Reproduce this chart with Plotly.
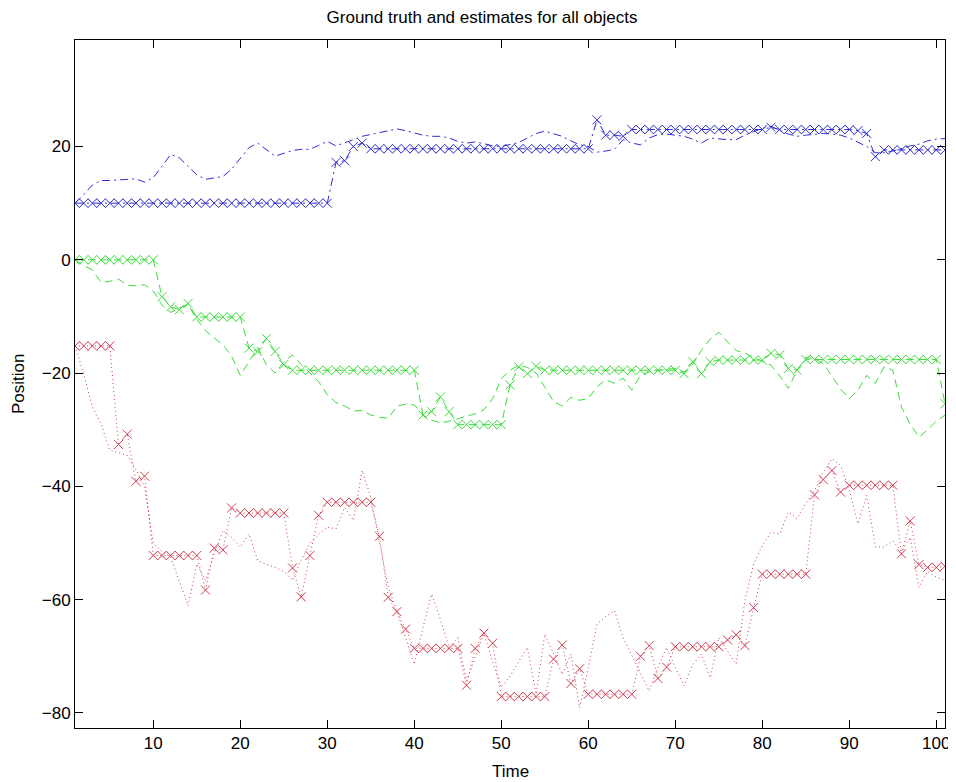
import plotly.graph_objects as go

time = list(range(1, 102))

blue_truth = [10, 11.5, 13.2, 14, 14, 14.1, 14.2, 14.3, 13.7, 14.5,
              16.5, 18.6, 18, 16.5, 15, 14.2, 14.4, 14.7, 16, 18,
              19.8, 20.6, 19.5, 18.3, 18.8, 19.3, 19.5, 19.5, 20.2, 20.9,
              20.1, 20.6, 21.2, 21.8, 22.1, 22.5, 22.8, 23.1, 22.8, 22.4,
              22, 21.8, 21.8, 21.5, 20.9, 20.6, 20.8, 20.5, 20.1, 20,
              20.3, 20.7, 21.5, 22.3, 22.7, 22.2, 21.8, 21, 20.3, 20,
              19, 19.2, 19.5, 21.2, 20.6, 20.3, 21.5, 22.1, 22.2, 22,
              21.8, 21.3, 20.6, 21.5, 21.3, 21.2, 21.2, 22, 22.6, 23.2,
              23.6, 22.8, 22.2, 21.8, 22, 22.1, 22.3, 22.2, 22, 21.5,
              20.8, 20, 18.9, 18.9, 19.2, 19.7, 20.1, 20.4, 21, 21.3,
              21.4]
blue_est = [10] * 30 + [17.2, 17.5, 20, 20.6] + [19.6] * 26 + \
           [24.7, 22, 22, 21.8] + [23.0] * 16 + [23.4] + [23.0] * 9 + \
           [22.8, 22.3, 18.2] + [19.4] * 8

green_truth = [0, -1, -1.8, -4, -3.8, -3.4, -4.5, -4.6, -4.4, -5.5,
               -8, -9.3, -8.5, -7.9, -10.5, -12.5, -13.8, -15, -17, -20.4,
               -18, -15.5, -18.5, -20, -18, -16.8, -18.5, -20, -21.5, -23.8,
               -25.2, -25.8, -26.7, -26.6, -27.4, -27.8, -28, -25.8, -25.5, -25.6,
               -27.4, -28.3, -28.8, -28.5, -28, -27.6, -27.2, -26.5, -24.5, -21,
               -19.5, -18.6, -19, -20, -22.5, -25, -25.8, -24.3, -24.8, -24.5,
               -22.4, -21.2, -21.8, -20.9, -23, -20.4, -19.8, -19.5, -19.3, -19.2,
               -19.8, -18.5, -16, -14, -12.8, -14.5, -16, -16.5, -17.2, -18,
               -18.6, -20.5, -22.7, -19.5, -17.2, -17.5, -18.3, -20.5, -22.8, -24.5,
               -23, -20.4, -21.8, -18.9, -19.5, -26, -29, -31.3, -30, -28.5,
               -27.4]
green_est = [0] * 10 + [-6.5, -8.3, -8.8, -7.7] + [-10.1] * 6 + \
            [-15.6, -16.2, -13.9, -16.2, -18.5] + [-19.5] * 15 + \
            [-27.4, -26.8, -24.2, -26.8] + [-29.1] * 6 + \
            [-22.1, -18.9, -20.1, -18.8] + [-19.5] * 16 + \
            [-20.1, -18, -20.1, -18] + [-17.7] * 6 + \
            [-16.5, -16.8, -19.2, -19.5] + [-17.6] * 16 + [-25.4]

red_truth = [-15.2, -20.1, -26, -29, -33.6, -34, -34.5, -37, -40.1, -50.1,
             -51.5, -52.5, -57, -61.1, -53.7, -56.6, -52, -47.8, -49, -50.7,
             -48.4, -53.1, -53.8, -54.3, -55, -56.6, -53, -50.1, -48.5, -47.2,
             -47.5, -43.7, -46, -37.2, -41.9, -50, -57.8, -62, -66.5, -71.4,
             -64.9, -59, -63.5, -68.4, -66.7, -74.3, -70.2, -66, -71, -75.5,
             -73.5, -71, -68.4, -76.7, -66.1, -69.5, -73.2, -69.6, -79.1, -72,
             -64.3, -63, -61.9, -66.7, -70, -73, -76.1, -72, -68.4, -72,
             -75.2, -71.5, -69.6, -73.8, -66.7, -69, -71.4, -60.2, -53.7, -50.5,
             -48.1, -48.4, -44.5, -45.7, -43, -40.7, -37.5, -35.1, -36.3, -40.7,
             -46.6, -41.6, -50.7, -50.7, -49.6, -51.5, -49, -57.8, -55, -56,
             -56.6]
red_est = [-15.2] * 5 + [-32.6, -30.8, -39.1, -38.2] + [-52.2] * 6 + \
          [-58.3, -50.9, -51.2, -43.8] + [-44.7] * 6 + \
          [-54.4, -59.5, -52.2, -45.1] + [-42.8] * 6 + \
          [-48.8, -59.6, -62.1, -65.2] + [-68.6] * 6 + \
          [-75.1, -68.6, -65.9, -67.7] + [-77.1] * 6 + \
          [-70.5, -68, -74.8, -72.2] + [-76.7] * 6 + \
          [-70, -68.1, -73.9, -71.9] + [-68.3] * 6 + \
          [-67.1, -66.2, -68.1, -61.4] + [-55.5] * 6 + \
          [-41.5, -38.8, -37.2, -41] + [-39.8] * 6 + \
          [-51.9, -46.1, -53.8, -54.3, -54.3, -54.1]

x_ticks = [10, 20, 30, 40, 50, 60, 70, 80, 90, 100]
y_ticks = [20, 0, -20, -40, -60, -80]

objects = [
    ("blue", blue_truth, blue_est, "rgb(45,45,210)", "8px,4px,2px,4px"),
    ("green", green_truth, green_est, "rgb(60,220,60)", "8px,5px"),
    ("red", red_truth, red_est, "rgb(210,60,80)", "1px,3px"),
]

fig = go.Figure()
for name, truth, est, color, dash in objects:
    fig.add_trace(go.Scatter(x=time, y=truth, mode="lines", name=name + " truth",
                             line=dict(color=color, width=1, dash=dash)))
    fig.add_trace(go.Scatter(x=time, y=est, mode="lines+markers", name=name + " estimate",
                             line=dict(color=color, width=1, dash=dash),
                             marker=dict(symbol="x-thin", size=9,
                                         line=dict(color=color, width=1))))

font = "Liberation Sans, Arial, Helvetica, sans-serif"
axis_common = dict(ticks="inside", ticklen=8, tickcolor="black", showline=True,
                   linecolor="black", linewidth=1, mirror="ticks", showgrid=False,
                   zeroline=False, automargin=False,
                   tickfont=dict(size=17, family=font, color="black"))
# page body has an 8px margin, so the figure is 8px smaller than the window
fig.update_layout(
    width=948, height=774,
    margin=dict(l=67, r=11, t=32, b=54, autoexpand=False),
    paper_bgcolor="white", plot_bgcolor="white",
    showlegend=False,
    font=dict(family=font, size=17, color="black"),
    title=dict(text="Ground truth and estimates for all objects",
               x=0.5, xref="container", xanchor="center",
               y=1 - 8.7 / 774, yref="container", yanchor="middle",
               font=dict(size=17, family=font, color="black")),
    xaxis=dict(range=[1, 101], tickvals=x_ticks, **axis_common),
    yaxis=dict(range=[-82.65, 38.8], tickvals=y_ticks, **axis_common),
    annotations=[
        dict(text="Time", xref="paper", yref="paper", x=0.5, y=-0.0625,
             xanchor="center", yanchor="middle", showarrow=False,
             font=dict(size=17, family=font, color="black")),
        dict(text="Position", xref="paper", yref="paper", x=-0.0655, y=0.5,
             xanchor="center", yanchor="middle", textangle=-90, showarrow=False,
             font=dict(size=17, family=font, color="black")),
    ],
)

fig.write_html("out.html")
